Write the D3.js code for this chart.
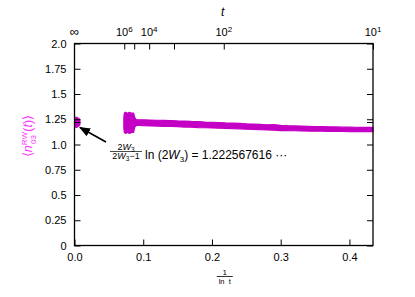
<!DOCTYPE html>
<html><head><meta charset="utf-8">
<script src="https://cdn.jsdelivr.net/npm/d3@7"></script>
<style>body{margin:0;background:#fff}svg{display:block;font-family:"Liberation Sans",Arial,sans-serif}</style>
</head><body><svg id="c" width="415" height="297"></svg>
<script>
// data
const bandX     = [0.0718,0.0725,0.074,0.077,0.080,0.083,0.0860,0.0875,0.090,0.095,0.100,0.110,0.120,0.130,0.140,0.150,0.160,0.170,0.180,0.190,0.200,0.210,0.220,0.230,0.240,0.250,0.260,0.270,0.280,0.290,0.300,0.310,0.320,0.330,0.340,0.350,0.360,0.370,0.380,0.390,0.400,0.410,0.420,0.4343];
const bandUpper = [1.27,1.31,1.32,1.31,1.32,1.31,1.31,1.27,1.245,1.245,1.245,1.242,1.240,1.238,1.236,1.233,1.232,1.228,1.226,1.222,1.220,1.218,1.214,1.212,1.210,1.205,1.203,1.200,1.195,1.196,1.190,1.186,1.184,1.182,1.180,1.178,1.177,1.175,1.174,1.172,1.172,1.171,1.170,1.170];
const bandLower = [1.16,1.12,1.11,1.12,1.11,1.12,1.12,1.17,1.190,1.188,1.186,1.184,1.182,1.180,1.178,1.176,1.173,1.172,1.168,1.166,1.164,1.162,1.160,1.156,1.155,1.152,1.150,1.146,1.144,1.142,1.138,1.137,1.136,1.134,1.133,1.132,1.131,1.130,1.130,1.129,1.128,1.128,1.128,1.127];
const limitX = [0.0, 0.004, 0.008];
const limitUpper = [1.27, 1.27, 1.25];
const limitLower = [1.17, 1.17, 1.19];
const limitValue = 1.222567616;
const yTicks = [0,0.25,0.5,0.75,1.0,1.25,1.5,1.75,2.0];
const yTickLabels = ["0","0.25","0.5","0.75","1.0","1.25","1.5","1.75","2.0"];
const xTicks = [0.0,0.1,0.2,0.3,0.4];
const xTickLabels = ["0.0","0.1","0.2","0.3","0.4"];
const tTicks = [1e6,1e5,1e4,1e3,1e2,1e1];
const tLabels = [{t:Infinity,base:"∞",exp:""},{t:1e6,base:"10",exp:"6"},{t:1e4,base:"10",exp:"4"},{t:1e2,base:"10",exp:"2"},{t:1e1,base:"10",exp:"1"}];

const svg = d3.select("#c");
const L=74.5,R=373,T=43.5,B=245.5;
const x = d3.scaleLinear().domain([0,1/Math.log(10)]).range([L,R]);
const y = d3.scaleLinear().domain([0,2]).range([B,T]);
const col = "#c400c4";

// band
const area = d3.area().x(d=>x(d[0])).y0(d=>y(d[2])).y1(d=>y(d[1])).curve(d3.curveLinear);
svg.append("path").datum(bandX.map((v,i)=>[v,bandUpper[i],bandLower[i]]))
  .attr("d",area).attr("fill",col).attr("stroke",col).attr("stroke-width",1.2).attr("stroke-linejoin","round");
svg.append("path").datum(limitX.map((v,i)=>[v,limitUpper[i],limitLower[i]]))
  .attr("d",area).attr("fill",col).attr("stroke",col).attr("stroke-width",1);

// frame
svg.append("rect").attr("x",L).attr("y",T).attr("width",R-L).attr("height",B-T)
  .attr("fill","none").attr("stroke","#000").attr("stroke-width",1.3);

// y axis
const yAx = svg.append("g").attr("transform",`translate(${L},0)`)
  .call(d3.axisLeft(y).tickValues(yTicks).tickSize(-6).tickPadding(8).tickFormat((d,i)=>yTickLabels[i]));
yAx.select(".domain").remove();
const yAxR = svg.append("g").attr("transform",`translate(${R},0)`)
  .call(d3.axisRight(y).tickValues(yTicks.concat([limitValue])).tickSize(-6).tickFormat(""));
yAxR.select(".domain").remove();
const yAxL2 = svg.append("g").attr("transform",`translate(${L},0)`)
  .call(d3.axisLeft(y).tickValues([limitValue]).tickSize(-6).tickFormat(""));
yAxL2.select(".domain").remove();

// x axis
const xAx = svg.append("g").attr("transform",`translate(0,${B})`)
  .call(d3.axisBottom(x).tickValues(xTicks).tickSize(-6).tickPadding(8).tickFormat((d,i)=>xTickLabels[i]));
xAx.select(".domain").remove();

// top axis
const xt = t => x(1/Math.log(t));
const topAx = svg.append("g").attr("transform",`translate(0,${T})`)
  .call(d3.axisTop(d3.scaleLinear().domain(x.domain()).range(x.range()))
    .tickValues(tTicks.map(t=>1/Math.log(t))).tickSize(-6).tickFormat(""));
topAx.select(".domain").remove();

svg.selectAll(".tick line").attr("stroke","#000").attr("stroke-width",1);
svg.selectAll(".tick text").attr("font-size",11).attr("fill","#000").attr("font-family","Liberation Sans, Arial, sans-serif");

tLabels.forEach(d=>{
  const px = d.t===Infinity ? x(0) : xt(d.t);
  const tx = svg.append("text").attr("x",px).attr("y",T-8).attr("text-anchor","middle")
    .attr("font-size",d.exp?11:13).attr("fill","#000");
  tx.append("tspan").text(d.base);
  if(d.exp) tx.append("tspan").attr("dy",-4).attr("font-size",8).text(d.exp);
});
svg.append("text").attr("x",(L+R)/2-1).attr("y",16).attr("text-anchor","middle")
  .attr("font-size",12).attr("font-style","italic").text("t");

// bottom label 1/ln t
const bx=(L+R)/2+1;
svg.append("text").attr("x",bx).attr("y",275).attr("text-anchor","middle").attr("font-size",8).text("1");
svg.append("line").attr("x1",bx-8).attr("x2",bx+8).attr("y1",276.5).attr("y2",276.5).attr("stroke","#000").attr("stroke-width",0.8);
svg.append("text").attr("x",bx).attr("y",284).attr("text-anchor","middle").attr("font-size",7.5).attr("xml:space","preserve").text("ln  t");

// y label
const yl = svg.append("text").attr("transform","translate(32,136) rotate(-90)").attr("text-anchor","middle")
  .attr("font-size",12.5).attr("fill","#ff33ff");
yl.append("tspan").text("⟨");
yl.append("tspan").attr("font-style","italic").text("n");
yl.append("tspan").attr("font-size",8).attr("dy",-5).text("RW");
yl.append("tspan").attr("font-size",8).attr("dx",-12).attr("dy",9).text("03");
yl.append("tspan").attr("dy",-4).text(" (");
yl.append("tspan").attr("font-style","italic").text("t");
yl.append("tspan").text(")⟩");

// arrow
svg.append("defs").append("marker").attr("id","ah").attr("viewBox","0 0 10 10").attr("refX",9).attr("refY",5)
  .attr("markerWidth",7).attr("markerHeight",7).attr("orient","auto-start-reverse")
  .append("path").attr("d","M0,1 L10,5 L0,9 Z").attr("fill","#000");
svg.append("line").attr("x1",106).attr("y1",142).attr("x2",80).attr("y2",127.5)
  .attr("stroke","#000").attr("stroke-width",1.6).attr("marker-end","url(#ah)");

// annotation
const fx=126;
const num = svg.append("text").attr("x",fx).attr("y",149.5).attr("text-anchor","middle").attr("font-size",9);
num.append("tspan").text("2");
num.append("tspan").attr("font-style","italic").text("W");
num.append("tspan").attr("font-size",6.5).attr("dy",2).text("3");
svg.append("line").attr("x1",110).attr("x2",142).attr("y1",151.5).attr("y2",151.5).attr("stroke","#000").attr("stroke-width",0.7);
const den = svg.append("text").attr("x",fx).attr("y",159).attr("text-anchor","middle").attr("font-size",9);
den.append("tspan").text("2");
den.append("tspan").attr("font-style","italic").text("W");
den.append("tspan").attr("font-size",6.5).attr("dy",2).text("3");
den.append("tspan").attr("dy",-2).text("−1");
const ann = svg.append("text").attr("x",145).attr("y",158.5).attr("font-size",12);
ann.append("tspan").text("ln (2");
ann.append("tspan").attr("font-style","italic").text("W");
ann.append("tspan").attr("font-size",8).attr("dy",3).text("3");
ann.append("tspan").attr("dy",-3).text(") = 1.222567616 ···");
</script></body></html>
